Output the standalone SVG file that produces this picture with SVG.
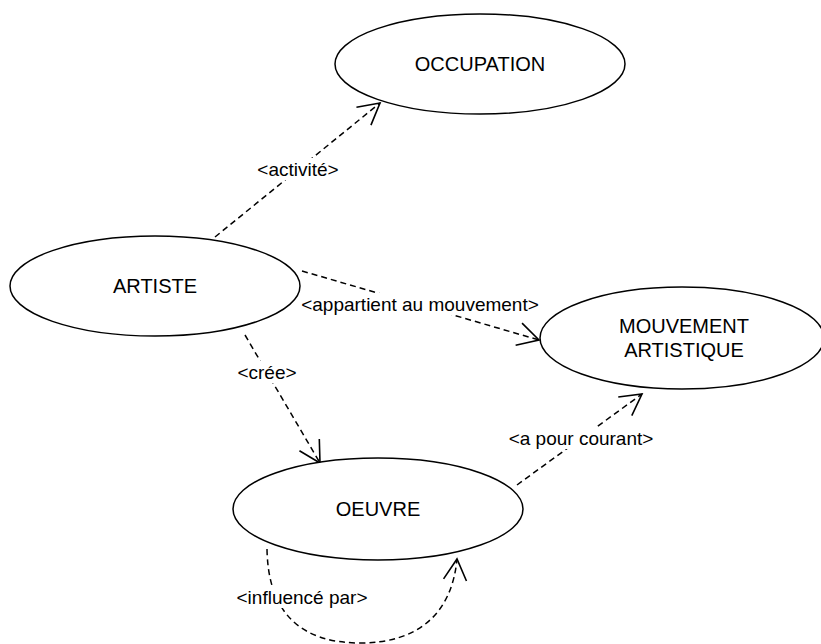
<svg xmlns="http://www.w3.org/2000/svg" width="821" height="644" viewBox="0 0 821 644">
  <style>
    .node ellipse { fill: #ffffff; stroke: #000000; stroke-width: 1.5; }
    .node text { font-family: "Liberation Sans", Arial, sans-serif; font-size: 20px; fill: #000000; text-anchor: middle; dominant-baseline: central; }
    .edge { fill: none; stroke: #000000; stroke-width: 1.5; stroke-dasharray: 6 4; }
    .lbl-bg { fill: #ffffff; }
    .lbl { font-family: "Liberation Sans", Arial, sans-serif; font-size: 19px; fill: #000000; text-anchor: middle; dominant-baseline: central; }
  </style>
  <defs>
    <marker id="open-arrow" viewBox="0 0 24 26" refX="22" refY="13" markerWidth="24" markerHeight="26" markerUnits="userSpaceOnUse" orient="auto">
      <path d="M1,1.5 L22,13 L1,24.5" fill="none" stroke="#000000" stroke-width="1.6"/>
    </marker>
  </defs>
  <rect width="821" height="644" fill="#ffffff"/>

  <!-- connectors -->
  <g id="connectors">
    <path class="edge" d="M215,237 L380,103" marker-end="url(#open-arrow)"/>
    <path class="edge" d="M302,271 L539,340" marker-end="url(#open-arrow)"/>
    <path class="edge" d="M245,335 L320,463" marker-end="url(#open-arrow)"/>
    <path class="edge" d="M517,485 L642,394" marker-end="url(#open-arrow)"/>
    <path class="edge" d="M267,549 C268,612 300,643 360,643 C420,643 452,612 457,559" marker-end="url(#open-arrow)"/>

    <rect class="lbl-bg" x="256" y="158" width="84" height="22"/>
    <text class="lbl" x="298" y="169">&lt;activité&gt;</text>
    <rect class="lbl-bg" x="301" y="293" width="238" height="22"/>
    <text class="lbl" x="420" y="304">&lt;appartient au mouvement&gt;</text>
    <rect class="lbl-bg" x="235" y="361" width="64" height="22"/>
    <text class="lbl" x="267" y="372">&lt;crée&gt;</text>
    <rect class="lbl-bg" x="507" y="427" width="148" height="22"/>
    <text class="lbl" x="581" y="438">&lt;a pour courant&gt;</text>
    <rect class="lbl-bg" x="235" y="586" width="134" height="22"/>
    <text class="lbl" x="302" y="597">&lt;influencé par&gt;</text>
  </g>

  <g id="occupation" class="node">
    <ellipse cx="480" cy="64" rx="145" ry="50"/>
    <text x="480" y="64">OCCUPATION</text>
  </g>
  <g id="artiste" class="node">
    <ellipse cx="155" cy="286" rx="145" ry="50"/>
    <text x="155" y="286">ARTISTE</text>
  </g>
  <g id="mouvement" class="node">
    <ellipse cx="682" cy="338" rx="142" ry="51"/>
    <text x="684" y="326">MOUVEMENT</text>
    <text x="684" y="350">ARTISTIQUE</text>
  </g>
  <g id="oeuvre" class="node">
    <ellipse cx="378" cy="509" rx="145" ry="51"/>
    <text x="378" y="509">OEUVRE</text>
  </g>
</svg>
